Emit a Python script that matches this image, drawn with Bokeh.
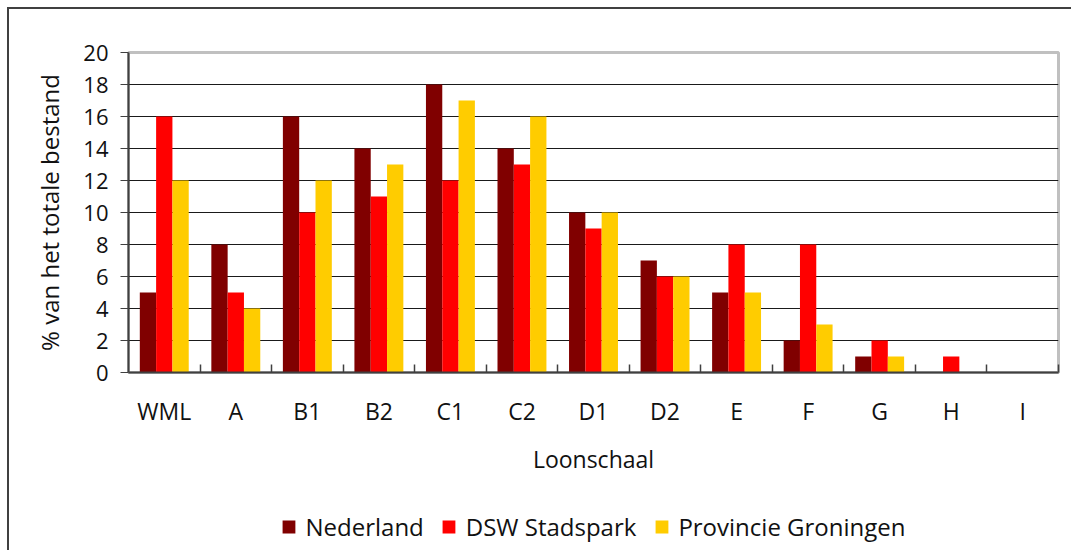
from bokeh.plotting import figure
from bokeh.models import ColumnDataSource, FixedTicker, Legend, LegendItem, Range1d
from bokeh.transform import dodge
from bokeh.layouts import column
from bokeh.embed import file_html
from bokeh.resources import INLINE

categories = ["WML", "A", "B1", "B2", "C1", "C2", "D1", "D2", "E", "F", "G", "H", "I"]
nederland = [5, 8, 16, 14, 18, 14, 10, 7, 5, 2, 1, 0, 0]
dsw_stadspark = [16, 5, 10, 11, 12, 13, 9, 6, 8, 8, 2, 1, 0]
provincie_groningen = [12, 4, 12, 13, 17, 16, 10, 6, 5, 3, 1, 0, 0]
series_names = ["Nederland", "DSW Stadspark", "Provincie Groningen"]
series_colors = ["#800000", "#FF0000", "#FFCC00"]
y_ticks = [0, 2, 4, 6, 8, 10, 12, 14, 16, 18, 20]
x_title = "Loonschaal"
y_title = "% van het totale bestand"

FONT = "Open Sans"
n = len(categories)
centers = [i + 0.5 for i in range(n)]
src = ColumnDataSource(dict(xc=centers, cat=categories, s0=nederland, s1=dsw_stadspark, s2=provincie_groningen))
keys = ["s0", "s1", "s2"]
bw = 0.228

p = figure(output_backend="svg", toolbar_location=None,
           frame_width=930, frame_height=320,
           min_border_left=119, min_border_top=43, min_border_right=13, min_border_bottom=130,
           x_range=Range1d(0, n), y_range=Range1d(0, 20))
p.background_fill_color = "white"
p.border_fill_color = "white"
p.outline_line_color = "#c0c0c0"
p.outline_line_width = 3

for k, key in enumerate(keys):
    p.vbar(x=dodge("xc", (k - 1) * bw), top=key, width=bw, bottom=0, source=src,
           fill_color=series_colors[k], line_color=None)

# y axis
p.yaxis.ticker = FixedTicker(ticks=y_ticks)
p.yaxis.axis_label = y_title
p.yaxis.axis_label_text_font = FONT
p.yaxis.axis_label_text_font_style = "normal"
p.yaxis.axis_label_text_font_size = "24px"
p.yaxis.axis_label_standoff = 14
p.yaxis.major_label_text_font = FONT
p.yaxis.major_label_text_font_size = "22px"
p.yaxis.major_label_standoff = 12
p.yaxis.major_tick_out = 8
p.yaxis.major_tick_in = 0
p.yaxis.minor_tick_line_color = None
p.yaxis.axis_line_color = "#404040"
p.yaxis.axis_line_width = 2
p.yaxis.major_tick_line_color = "#404040"
p.yaxis.major_label_text_color = "#111111"
p.yaxis.axis_label_text_color = "#111111"

# x axis
p.xaxis.ticker = FixedTicker(ticks=centers, minor_ticks=list(range(1, n + 1)))
p.xaxis.major_label_overrides = {c: lab for c, lab in zip(centers, categories)}
p.xaxis.major_tick_line_color = None
p.xaxis.minor_tick_in = 8
p.xaxis.minor_tick_out = 0
p.xaxis.minor_tick_line_color = "#404040"
p.xaxis.minor_tick_line_width = 1.5
p.xaxis.axis_line_color = "#404040"
p.xaxis.axis_line_width = 2
p.xaxis.major_label_text_font = FONT
p.xaxis.major_label_text_font_size = "23px"
p.xaxis.major_label_standoff = 16
p.xaxis.major_label_text_color = "#111111"
p.xaxis.axis_label = x_title
p.xaxis.axis_label_text_font = FONT
p.xaxis.axis_label_text_font_style = "normal"
p.xaxis.axis_label_text_font_size = "23px"
p.xaxis.axis_label_standoff = 13
p.xaxis.axis_label_text_color = "#111111"

p.xgrid.grid_line_color = None
p.ygrid.ticker = FixedTicker(ticks=y_ticks)
p.ygrid.grid_line_color = "#1a1a1a"
p.ygrid.grid_line_width = 1.2

# legend strip below the chart (its glyphs sit outside its visible range)
lg = figure(output_backend="svg", toolbar_location=None,
            frame_width=930, frame_height=48,
            min_border_left=119, min_border_top=0, min_border_right=13, min_border_bottom=0,
            x_range=p.x_range, y_range=Range1d(100, 101),
            x_axis_type=None, y_axis_type=None)
lg.outline_line_color = None
lg.background_fill_color = "white"
lg.border_fill_color = "white"
lg_renderers = []
for k, key in enumerate(keys):
    r = lg.vbar(x=dodge("xc", (k - 1) * bw), top=key, width=bw, bottom=0, source=src,
                fill_color=series_colors[k], line_color=None)
    lg_renderers.append(r)

legend = Legend(items=[LegendItem(label=series_names[k], renderers=[lg_renderers[k]]) for k in range(3)],
                orientation="horizontal", location="center",
                glyph_width=16, glyph_height=16, label_text_font=FONT, label_text_font_size="24px",
                label_text_color="#111111",
                label_standoff=9, spacing=17, padding=0, margin=0,
                border_line_color=None, background_fill_alpha=0)
lg.add_layout(legend, "center")

layout = column(p, lg, spacing=0,
                styles={"margin-left": "7px", "margin-top": "7px",
                        "border-left": "2px solid #404040", "border-top": "2px solid #404040"})
open("out.html", "w").write(file_html(layout, INLINE))
